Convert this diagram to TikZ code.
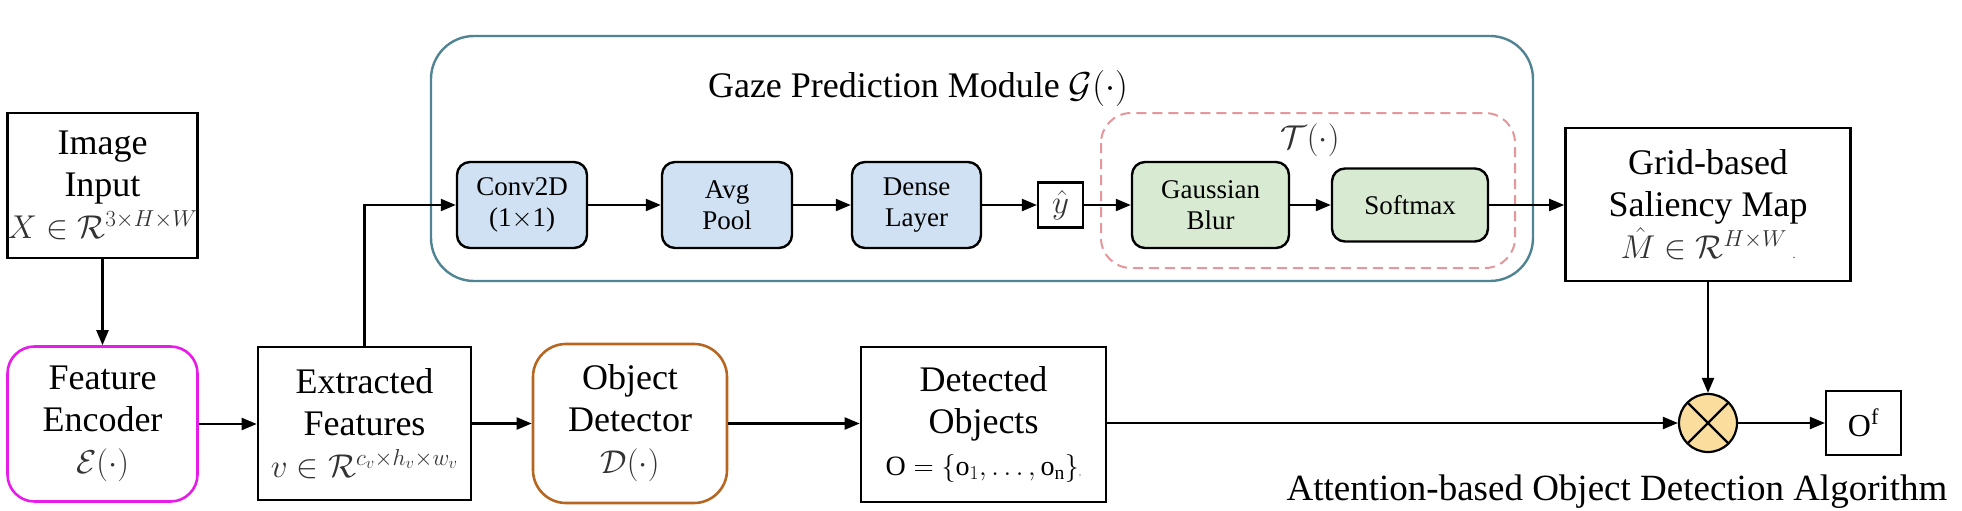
\RequirePackage{fix-cm}
\documentclass[tikz,border=0pt]{standalone}
\usepackage{amsmath}
\usepackage{fontspec}
\setmainfont{Liberation Serif}
\usetikzlibrary{arrows.meta}
\definecolor{gazec}{RGB}{80,132,146}
\definecolor{bluefill}{RGB}{207,225,242}
\definecolor{greenfill}{RGB}{217,234,211}
\definecolor{dashc}{RGB}{228,150,155}
\definecolor{encc}{RGB}{232,28,232}
\definecolor{detc}{RGB}{183,102,32}
\definecolor{otfill}{RGB}{251,222,158}
\newcommand\msz{\fontsize{33}{42}\selectfont\color{black!80}}
\tikzset{
  arr/.style={line width=2.2pt, -{Triangle[length=15pt,width=12pt]}},
  bigtext/.style={font=\fontsize{36}{42}\selectfont, align=center, inner sep=0pt},
  smalltext/.style={font=\fontsize{27}{31}\selectfont, align=center, inner sep=0pt},
  plainbox/.style={draw, line width=2.6pt, bigtext},
  encbox/.style={draw=encc, line width=2.6pt, rounded corners=27pt, bigtext},
  detbox/.style={draw=detc, line width=2.6pt, rounded corners=33pt, bigtext},
  bluebox/.style={draw, fill=bluefill, line width=2.4pt, rounded corners=13pt, smalltext},
  greenbox/.style={draw, fill=greenfill, line width=2.4pt, rounded corners=13pt, smalltext},
  gazeframe/.style={draw=gazec, line width=2.4pt, rounded corners=43pt},
  dashframe/.style={draw=dashc, line width=2pt, dash pattern=on 10pt off 6pt, rounded corners=30pt},
  smallbox/.style={draw, line width=2.2pt, inner sep=0pt},
}
\begin{document}
\begin{tikzpicture}[x=1pt,y=-1pt]
\useasboundingbox (0,0) rectangle (1962,511);

% gaze prediction module frame and T(.) frame
\draw[gazeframe] (431,36) rectangle (1533,281);
\node[anchor=base, font=\fontsize{36}{42}\selectfont, inner sep=0pt] (gtitle) at (918,97) {Gaze Prediction Module $\mathcal{G}(\cdot)$};
\draw[dashframe] (1101,113) rectangle (1515,268);
\node[font=\msz, inner sep=0pt] (tlab) at (1310,140) {$\mathcal{T}(\cdot)$};

% left column
\node[plainbox, minimum width=179pt, minimum height=145pt] (img) at (102.5,185.5) {Image\\Input\\{\msz $X\in\mathcal{R}^{3\times H\times W}$}};
\node[encbox, minimum width=190pt, minimum height=155pt] (enc) at (102.5,424) {Feature\\Encoder\\{\msz $\mathcal{E}(\cdot)$}};
\node[plainbox, minimum width=213pt, minimum height=153pt] (ext) at (364.5,423.5) {Extracted\\Features\\{\msz $v\in\mathcal{R}^{c_v\times h_v\times w_v}$}};

% gaze row
\node[bluebox, minimum width=130pt, minimum height=86pt] (conv) at (522,205) {Conv2D\\(1$\times$1)};
\node[bluebox, minimum width=130pt, minimum height=86pt] (avg) at (727,205) {Avg\\Pool};
\node[bluebox, minimum width=129pt, minimum height=86pt] (dense) at (916.5,205) {Dense\\Layer};
\node[smallbox, minimum size=45pt, font=\msz] (yhat) at (1060.5,205) {$\hat{y}$};
\node[greenbox, minimum width=157pt, minimum height=86pt] (gauss) at (1210.5,205) {Gaussian\\Blur};
\node[greenbox, minimum width=156pt, minimum height=73pt] (soft) at (1410,205) {Softmax};
\node[plainbox, minimum width=285pt, minimum height=153pt] (grid) at (1708,204.5) {Grid-based\\Saliency Map\\{\msz $\hat{M}\in\mathcal{R}^{H\times W}$\,{\fontsize{12}{12}\selectfont .}}};

% bottom row
\node[detbox, minimum width=194pt, minimum height=159pt] (det) at (630,423.5) {Object\\Detector\\{\msz $\mathcal{D}(\cdot)$}};
\node[plainbox, minimum width=245pt, minimum height=155pt] (objs) at (983.5,424.5) {Detected\\Objects\\{\fontsize{28}{42}\selectfont $\mathrm{O}=\{\mathrm{o}_1, \ldots, \mathrm{o}_{\mathrm{n}}\}${\fontsize{10}{10}\selectfont\color{black!50},}}};
\node[circle, draw, fill=otfill, line width=2.2pt, minimum size=58pt, inner sep=0pt,
  path picture={\draw[line width=2.2pt] (path picture bounding box.north west) -- (path picture bounding box.south east)
  (path picture bounding box.north east) -- (path picture bounding box.south west);}] (ot) at (1708,423) {};
\node[smallbox, minimum width=75pt, minimum height=64pt, font=\fontsize{32}{32}\selectfont] (of) at (1863.5,423) {$\mathrm{O}^{\mathrm{f}}$};
\node[anchor=base, font=\fontsize{37}{42}\selectfont, inner sep=0pt] (cap) at (1617,500) {Attention-based Object Detection Algorithm};

% connectors
\draw[arr] (img.south) -- (img.south |- enc.north);
\draw[arr] (enc.east) -- (enc.east -| ext.west);
\draw[arr] (ext.north) |- (conv.west);
\draw[arr] (conv) -- (avg);
\draw[arr] (avg) -- (dense);
\draw[arr] (dense) -- (yhat);
\draw[arr] (yhat) -- (gauss);
\draw[arr] (gauss) -- (soft);
\draw[arr] (soft.east) -- (soft.east -| grid.west);
\draw[arr] (ext.east) -- (ext.east -| det.west);
\draw[arr] (det.east) -- (det.east -| objs.west);
\draw[arr] (objs.east |- ot.west) -- (ot.west);
\draw[arr] (grid.south) -- (ot.north);
\draw[arr] (ot) -- (of);
\end{tikzpicture}
\end{document}
